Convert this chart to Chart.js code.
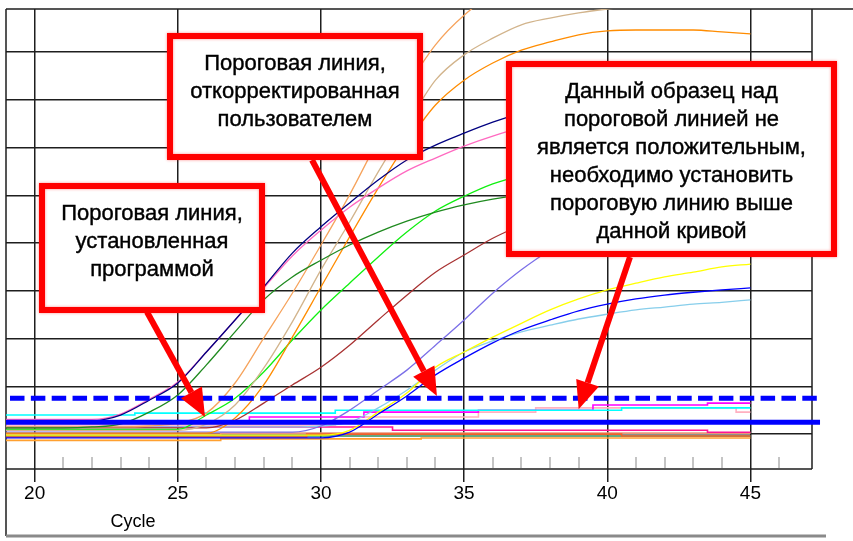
<!DOCTYPE html>
<html lang="ru">
<head>
<meta charset="utf-8">
<title>Пороговая линия</title>
<script src="https://cdn.jsdelivr.net/npm/chart.js@4.4.1/dist/chart.umd.min.js"></script>
<style>
  html, body { margin: 0; padding: 0; background: #fff; }
  #wrap { width: 853px; height: 541px; }
</style>
</head>
<body>
<div id="wrap"><canvas id="ampChart" width="853" height="541"></canvas></div>
<script>
// Amplification curves, one value per cycle (19..45)
const cycles = [19, 20, 21, 22, 23, 24, 25, 26, 27, 28, 29, 30, 31, 32, 33, 34, 35, 36, 37, 38, 39, 40, 41, 42, 43, 44, 45];

const navyCurve = [1.25, 1.25, 1.25, 1.27, 1.40, 1.71, 2.07, 2.72, 3.39, 4.08, 4.79, 5.34, 5.84, 6.32, 6.74, 7.05, 7.30, 7.53, 7.72, 7.87, 7.99, 8.08, 8.14, 8.18, 8.23, 8.25, 8.27];
const pinkCurve = [1.31, 1.31, 1.31, 1.31, 1.42, 1.73, 2.09, 2.72, 3.39, 4.06, 4.73, 5.27, 5.75, 6.15, 6.51, 6.78, 7.03, 7.24, 7.41, 7.53, 7.64, 7.72, 7.79, 7.83, 7.87, 7.89, 7.91];
const greenCurve = [1.13, 1.13, 1.13, 1.15, 1.21, 1.46, 1.82, 2.45, 3.14, 3.81, 4.29, 4.64, 4.96, 5.23, 5.46, 5.65, 5.80, 5.92, 6.01, 6.07, 6.11, 6.15, 6.17, 6.19, 6.21, 6.21, 6.24];
const sandyCurve = [1.15, 1.15, 1.15, 1.15, 1.15, 1.17, 1.23, 1.44, 2.07, 3.01, 3.95, 4.96, 6.01, 7.16, 8.25, 9.15, 9.77, 10.2, 10.35, 10.45, 10.5, 10.55, 10.6, 10.6, 10.6, 10.6, 10.6];
const tanCurve = [1.08, 1.08, 1.08, 1.08, 1.08, 1.08, 1.08, 1.21, 1.61, 2.38, 3.35, 4.44, 5.44, 6.49, 7.47, 8.41, 8.94, 9.29, 9.57, 9.71, 9.82, 9.90, 9.96, 10.01, 10.03, 10.05, 10.07];
const orangeCurve = [1.02, 1.02, 1.02, 1.02, 1.02, 1.02, 1.02, 1.02, 1.34, 2.03, 3.03, 4.08, 5.13, 6.15, 7.09, 7.89, 8.41, 8.77, 9.04, 9.21, 9.36, 9.44, 9.46, 9.46, 9.46, 9.42, 9.38];
const limeCurve = [1.10, 1.10, 1.10, 1.10, 1.10, 1.10, 1.10, 1.40, 1.75, 2.30, 2.97, 3.60, 4.16, 4.71, 5.23, 5.67, 5.98, 6.24, 6.42, 6.57, 6.68, 6.74, 6.78, 6.82, 6.84, 6.86, 6.88];
const brownCurve = [1.13, 1.13, 1.13, 1.13, 1.13, 1.13, 1.13, 1.13, 1.29, 1.65, 2.03, 2.40, 2.86, 3.39, 3.91, 4.39, 4.75, 5.10, 5.38, 5.65, 5.86, 6.01, 6.11, 6.19, 6.26, 6.30, 6.32];
const purpleCurve = [1.04, 1.04, 1.04, 1.04, 1.04, 1.04, 1.04, 1.04, 1.04, 1.04, 1.04, 1.17, 1.50, 1.92, 2.34, 2.86, 3.39, 3.95, 4.44, 4.85, 5.17, 5.40, 5.59, 5.73, 5.84, 5.90, 5.94];
const yellowCurve = [0.98, 0.98, 0.98, 0.98, 0.98, 0.98, 0.98, 0.98, 0.98, 0.98, 0.98, 0.98, 1.08, 1.46, 1.86, 2.40, 2.72, 3.03, 3.32, 3.60, 3.83, 4.02, 4.16, 4.29, 4.39, 4.50, 4.56];
const blueCurve = [0.92, 0.92, 0.92, 0.92, 0.92, 0.92, 0.92, 0.92, 0.92, 0.92, 0.92, 0.92, 1.04, 1.42, 1.80, 2.24, 2.59, 2.91, 3.18, 3.39, 3.58, 3.72, 3.83, 3.91, 3.97, 4.02, 4.06];
const skyCurve = [1.15, 1.15, 1.15, 1.15, 1.15, 1.15, 1.15, 1.15, 1.15, 1.15, 1.15, 1.17, 1.25, 1.55, 1.92, 2.34, 2.72, 2.95, 3.14, 3.28, 3.41, 3.51, 3.60, 3.66, 3.72, 3.76, 3.81];

// Negative samples that stay near the baseline
const cyanFlat = [1.40, 1.40, 1.40, 1.40, 1.40, 1.44, 1.44, 1.44, 1.44, 1.44, 1.44, 1.44, 1.50, 1.50, 1.50, 1.50, 1.50, 1.50, 1.50, 1.50, 1.50, 1.50, 1.55, 1.55, 1.55, 1.55, 1.55];
const magentaFlat = [1.23, 1.23, 1.23, 1.23, 1.23, 1.23, 1.23, 1.23, 1.23, 1.36, 1.36, 1.36, 1.36, 1.46, 1.46, 1.46, 1.46, 1.50, 1.50, 1.50, 1.50, 1.61, 1.61, 1.61, 1.61, 1.65, 1.65];
const lightPinkFlat = [1.19, 1.19, 1.19, 1.19, 1.19, 1.19, 1.19, 1.19, 1.19, 1.19, 1.19, 1.19, 1.36, 1.36, 1.36, 1.36, 1.36, 1.46, 1.46, 1.55, 1.55, 1.55, 1.55, 1.55, 1.55, 1.55, 1.46];
const deepPinkFlat = [1.15, 1.15, 1.15, 1.15, 1.15, 1.15, 1.15, 1.15, 1.15, 1.15, 1.15, 1.15, 1.15, 1.15, 1.08, 1.08, 1.08, 1.08, 1.08, 1.08, 1.08, 1.08, 1.08, 1.08, 1.08, 1.04, 1.04];
const redOrangeFlat = [0.94, 0.94, 0.94, 0.94, 0.94, 0.94, 0.94, 0.94, 0.94, 0.94, 0.94, 1.00, 1.00, 1.00, 1.00, 1.00, 1.00, 1.00, 1.00, 1.00, 1.00, 1.00, 0.96, 0.96, 0.96, 0.96, 0.96];
const salmonFlat = [1.00, 1.00, 1.00, 1.00, 1.00, 1.00, 1.00, 1.00, 1.02, 1.02, 1.02, 1.02, 1.02, 1.02, 1.02, 1.02, 1.02, 1.02, 1.02, 1.02, 1.02, 1.02, 1.02, 1.02, 1.02, 1.02, 1.02];
const amberFlat = [0.87, 0.87, 0.87, 0.87, 0.87, 0.87, 0.87, 0.87, 0.90, 0.90, 0.90, 0.90, 0.90, 0.90, 0.90, 0.92, 0.92, 0.92, 0.92, 0.92, 0.92, 0.92, 0.92, 0.92, 0.92, 0.92, 0.92];
const seaGreenFlat = [0.96, 0.96, 0.96, 0.96, 0.96, 0.96, 0.96, 0.96, 0.96, 0.96, 0.96, 0.96, 0.96, 0.96, 0.96, 0.96, 0.96, 0.96, 0.96, 0.96, 0.96, 0.96, 0.96, 0.96, 0.96, 0.96, 0.96];

// Threshold levels
const autoThreshold = 1.25;
const userThreshold = 1.75;

const majorCycles = [20, 25, 30, 35, 40, 45];
const gridLevels = [1, 2, 3, 4, 5, 6, 7, 8, 9];

const curves = [
  [navyCurve, '#000080'], [pinkCurve, '#ff69c0'], [greenCurve, '#1f8a1f'],
  [sandyCurve, '#f6a35c'], [tanCurve, '#d2b48c'], [orangeCurve, '#ff8c00'],
  [limeCurve, '#10f010'], [brownCurve, '#a83232'], [purpleCurve, '#7b6fe8'],
  [yellowCurve, '#ffff00'], [blueCurve, '#0000ff'], [skyCurve, '#87ceeb']
];
const flats = [
  [cyanFlat, '#00ffff'], [magentaFlat, '#ff00ff'], [lightPinkFlat, '#ffb0c0'],
  [deepPinkFlat, '#ff1493'], [redOrangeFlat, '#f0602a'], [salmonFlat, '#e9967a'],
  [amberFlat, '#ffa030'], [seaGreenFlat, '#2e8b57']
];

const toPoints = vals => vals.map((v, i) => ({ x: cycles[i], y: v }));

const datasets = [
  {
    data: [{ x: 19, y: userThreshold }, { x: 47.36, y: userThreshold }],
    borderColor: '#0000ff', borderWidth: 5,
    borderDash: [14.5, 6.35], borderDashOffset: 16.85,
    clip: { left: 0, top: 0, right: 10, bottom: 0 }
  },
  {
    data: [{ x: 19, y: autoThreshold }, { x: 47.43, y: autoThreshold }],
    borderColor: '#0000ff', borderWidth: 5,
    clip: { left: 0, top: 0, right: 10, bottom: 0 }
  }
];
curves.forEach(([vals, color]) => datasets.push({
  data: toPoints(vals), borderColor: color, borderWidth: 1.3,
  cubicInterpolationMode: 'monotone'
}));
flats.forEach(([vals, color]) => datasets.push({
  data: toPoints(vals), borderColor: color, borderWidth: 1.6, stepped: 'middle'
}));

// Callout boxes and the arrows pointing at the threshold lines
const callouts = [
  { box: [167, 33, 423, 160], from: [312, 160], to: [34.05, 1.80],
    lines: ['Пороговая линия,', 'откорректированная', 'пользователем'] },
  { box: [39, 183, 265, 313], from: [147, 312], to: [25.95, 1.36],
    lines: ['Пороговая линия,', 'установленная', 'программой'] },
  { box: [506, 61, 837, 257], from: [630, 257], to: [39.0, 1.52],
    lines: ['Данный образец над', 'пороговой линией не', 'является положительным,',
            'необходимо установить', 'пороговую линию выше', 'данной кривой'] }
];

const axisFont = '"Liberation Sans", Arial, sans-serif';

function drawArrow(ctx, x0, y0, x1, y1) {
  const ang = Math.atan2(y1 - y0, x1 - x0);
  const head = 28, half = 12;
  const bx = x1 - head * Math.cos(ang), by = y1 - head * Math.sin(ang);
  ctx.beginPath();
  ctx.moveTo(x0, y0);
  ctx.lineTo(bx, by);
  ctx.stroke();
  ctx.beginPath();
  ctx.moveTo(x1, y1);
  ctx.lineTo(bx + half * Math.sin(ang), by - half * Math.cos(ang));
  ctx.lineTo(bx - half * Math.sin(ang), by + half * Math.cos(ang));
  ctx.closePath();
  ctx.fill();
}

const overlay = {
  id: 'overlay',
  beforeDatasetsDraw(chart) {
    const { ctx, chartArea: a, scales: { x } } = chart;
    ctx.save();
    // light minor ticks for every cycle
    ctx.strokeStyle = '#c4c4c4';
    ctx.lineWidth = 2;
    for (let c = 21; c <= 46; c++) {
      if (c % 5 === 0) continue;
      const px = Math.round(x.getPixelForValue(c));
      ctx.beginPath();
      ctx.moveTo(px, a.bottom - 12);
      ctx.lineTo(px, a.bottom - 1);
      ctx.stroke();
    }
    // plot frame
    ctx.strokeStyle = '#1e1e1e';
    ctx.lineWidth = 1.5;
    ctx.beginPath();
    ctx.moveTo(a.left, a.top); ctx.lineTo(chart.width, a.top);
    ctx.moveTo(a.right, a.top); ctx.lineTo(a.right, a.bottom);
    ctx.moveTo(a.left, a.bottom); ctx.lineTo(a.right, a.bottom);
    ctx.moveTo(a.left, a.top); ctx.lineTo(a.left, chart.height - 5);
    ctx.stroke();
    ctx.strokeStyle = '#8a8a8a';
    ctx.lineWidth = 3;
    ctx.beginPath();
    ctx.moveTo(a.left, chart.height - 5);
    ctx.lineTo(a.right + 14, chart.height - 5);
    ctx.stroke();
    ctx.restore();
  },
  afterDraw(chart) {
    const { ctx, chartArea: a, scales: { x, y } } = chart;
    ctx.save();
    ctx.fillStyle = '#000';
    ctx.font = '18px ' + axisFont;
    ctx.textAlign = 'center';
    ctx.textBaseline = 'alphabetic';
    ctx.fillText('Cycle', a.left + 127, a.bottom + 58);

    ctx.strokeStyle = '#ff0000';
    ctx.fillStyle = '#ff0000';
    ctx.lineWidth = 6;
    callouts.forEach(c => {
      drawArrow(ctx, c.from[0], c.from[1], x.getPixelForValue(c.to[0]), y.getPixelForValue(c.to[1]));
    });

    callouts.forEach(c => {
      const [l, t, r, b] = c.box;
      ctx.fillStyle = '#fff';
      ctx.fillRect(l, t, r - l, b - t);
      ctx.shadowColor = 'rgba(255,0,0,0.45)';
      ctx.shadowBlur = 3;
      ctx.strokeStyle = '#ff0000';
      ctx.lineWidth = 6;
      ctx.strokeRect(l + 3, t + 3, r - l - 6, b - t - 6);
      ctx.shadowBlur = 0;
      ctx.fillStyle = '#000';
      ctx.strokeStyle = '#000';
      ctx.lineWidth = 0.4;
      ctx.font = '22px "Liberation Sans", Arial, sans-serif';
      c.lines.forEach((line, i) => {
        const ty = t + 37 + i * 28;
        ctx.fillText(line, (l + r) / 2, ty);
        ctx.strokeText(line, (l + r) / 2, ty);
      });
    });
    ctx.restore();
  }
};

new Chart(document.getElementById('ampChart'), {
  type: 'line',
  data: { datasets },
  options: {
    responsive: false,
    animation: false,
    events: [],
    layout: { padding: { left: 6, top: 9, right: 41, bottom: 0 } },
    plugins: { legend: { display: false }, tooltip: { enabled: false } },
    elements: { point: { radius: 0 }, line: { fill: false } },
    scales: {
      x: {
        type: 'linear', min: 19, max: 47.15,
        afterBuildTicks: s => { s.ticks = majorCycles.map(v => ({ value: v })); },
        afterFit: s => { s.height = 72; },
        grid: { color: '#1e1e1e', lineWidth: 1.5, tickLength: 13, tickColor: '#1e1e1e', tickWidth: 1.5 },
        border: { display: false },
        ticks: { color: '#000', padding: 0, maxRotation: 0, font: { family: axisFont, size: 19 } }
      },
      y: {
        min: 0.27, max: 9.9,
        afterBuildTicks: s => { s.ticks = gridLevels.map(v => ({ value: v })); },
        afterFit: s => { s.width = 0; },
        grid: { color: '#1e1e1e', lineWidth: 1.5, drawTicks: false },
        border: { display: false },
        ticks: { display: false }
      }
    }
  },
  plugins: [overlay]
});
</script>
</body>
</html>
